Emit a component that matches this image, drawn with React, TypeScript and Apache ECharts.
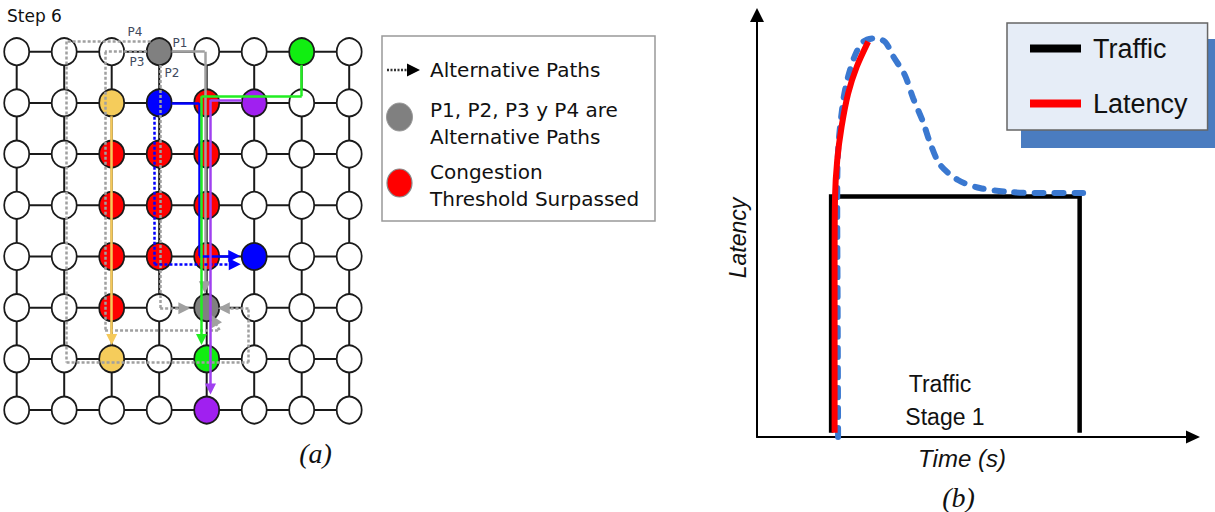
import React, { useEffect, useRef } from "react";
import * as echarts from "echarts";

// ---------- (a) mesh network ----------
const gridCols = [0, 1, 2, 3, 4, 5, 6, 7];
const gridRows = [0, 1, 2, 3, 4, 5, 6, 7];

const congestedNodes = [[4, 1], [2, 2], [3, 2], [4, 2], [2, 3], [3, 3], [4, 3], [2, 4], [3, 4], [4, 4], [2, 5]];
const alternativeNodes = [[3, 0], [4, 5]];
const greenNodes = [[6, 0], [4, 6]];
const blueNodes = [[3, 1], [5, 4]];
const purpleNodes = [[5, 1], [4, 7]];
const yellowNodes = [[2, 1], [2, 6]];

// path vertices in node units (column, row)
const pathP4 = [[2.82, -0.2], [1.05, -0.2], [1.05, 6.07], [4.88, 6.07], [4.88, 5.01], [4.36, 5.01]];
const pathP3 = [[2.74, 0], [1.86, 0], [1.86, 5.44], [4.27, 5.44], [4.15, 5.24]];
const pathP2 = [[3.02, 0.26], [3.02, 5.01], [3.53, 5.01]];
const pathP1 = [[3.26, 0], [3.96, 0], [3.96, 4.6]];
const pathBlueAlt = [[2.9, 1.27], [2.9, 4.15], [4.59, 4.15]];
const pathBlue = [[3.26, 1], [3.84, 1], [3.84, 3.99], [4.58, 3.99]];
const pathGreen = [[6, 0.26], [6, 0.87], [3.89, 0.87], [3.89, 5.62]];
const pathPurple = [[4.74, 0.94], [4.08, 0.94], [4.08, 6.59]];
const pathYellow = [[2, 1.26], [2, 5.62]];

// ---------- (b) latency chart ----------
const trafficStage = [[17, 1], [17, 57], [74, 57], [74, 1]];
const latencyRise = [[17.8, 1], [17.8, 40], [17.9, 57], [18.4, 65.6], [19.4, 73.5], [20.9, 81.4], [22.9, 87.8], [25.5, 93.7]];
const latencyTrend = [
  [18.6, 0], [18.5, 30], [18.4, 55], [18.6, 68], [19.8, 79.9], [20.9, 85.4], [22.5, 90.5], [24.4, 93.7],
  [27.1, 94.5], [29.4, 93.6], [31.3, 90.1], [33.9, 85.8], [35.8, 80.3], [38.1, 74.6], [39.7, 69.7],
  [42, 64.5], [46.1, 60.9], [51.1, 59], [57.6, 58.1], [64.2, 57.8], [74.8, 57.8],
];

const key = (p: number[]) => p[0] + "," + p[1];
const colored = new Set(
  [...congestedNodes, ...alternativeNodes, ...greenNodes, ...blueNodes, ...purpleNodes, ...yellowNodes].map(key)
);
const plainNodes: number[][] = [];
gridRows.forEach((j) => gridCols.forEach((i) => { if (!colored.has(key([i, j]))) plainNodes.push([i, j]); }));

const nodeSeries = (name: string, data: number[][], color: string) => ({
  type: "scatter", name, xAxisIndex: 0, yAxisIndex: 0, data, symbol: "circle", symbolSize: [25, 27],
  clip: false, silent: true, z: 3,
  itemStyle: { color, borderColor: "#1a1a1a", borderWidth: 1.8, opacity: 1 },
});

const pathSeries = (name: string, pts: number[][], color: string, width: number, dash: any, arrow: number) => ({
  type: "lines", name, coordinateSystem: "cartesian2d", xAxisIndex: 0, yAxisIndex: 0, clip: false, silent: true, z: 4,
  symbol: "none",
  lineStyle: { color, width, type: dash, opacity: 1, curveness: 0 },
  data: pts.slice(1).map((p, k) => {
    const seg: any = { coords: [pts[k], p] };
    if (k === pts.length - 2) { seg.symbol = ["none", "triangle"]; seg.symbolSize = arrow; }
    return seg;
  }),
});

const SANS_A = "DejaVu Sans";
const SANS_B = "Liberation Sans";
const SERIF = "Liberation Serif";

const txt = (text: string, x: number, y: number, size: number, family: string, opts: any = {}) => ({
  type: "text", x, y, z: 5, silent: true,
  style: {
    text, fontSize: size, fontFamily: family, fill: opts.fill || "#111",
    fontStyle: opts.italic ? "italic" : "normal",
    textAlign: opts.align || "left", textVerticalAlign: "middle",
  },
});

const option: any = {
  animation: false,
  backgroundColor: "#ffffff",
  grid: [
    { left: 16.7, top: 51.7, width: 332.5, height: 358.4, show: false },
    { left: 757, top: 15, width: 436, height: 422, show: false },
  ],
  xAxis: [
    { type: "value", gridIndex: 0, min: 0, max: 7, show: false },
    {
      type: "value", gridIndex: 1, min: 0, max: 100,
      name: "Time (s)", nameLocation: "middle", nameGap: 9,
      nameTextStyle: { fontFamily: SANS_B, fontSize: 24, fontStyle: "italic", color: "#111", padding: [0, 26, 0, 0] },
      axisLine: { show: true, symbol: ["none", "triangle"], symbolSize: [13, 14], lineStyle: { color: "#000", width: 2 } },
      axisTick: { show: false }, axisLabel: { show: false }, splitLine: { show: false },
    },
  ],
  yAxis: [
    { type: "value", gridIndex: 0, min: 0, max: 7, inverse: true, show: false },
    {
      type: "value", gridIndex: 1, min: 0, max: 100,
      name: "Latency", nameLocation: "middle", nameGap: 8,
      nameTextStyle: { fontFamily: SANS_B, fontSize: 23, fontStyle: "italic", color: "#111", padding: [0, 24, 0, 0] },
      axisLine: { show: true, symbol: ["none", "triangle"], symbolSize: [14, 14], lineStyle: { color: "#000", width: 2 } },
      axisTick: { show: false }, axisLabel: { show: false }, splitLine: { show: false },
    },
  ],
  legend: {
    data: ["Traffic", "Latency"], orient: "vertical", left: 1007, top: 23,
    padding: [12, 20, 13, 23], itemGap: 28, itemWidth: 51, itemHeight: 8, icon: "rect",
    itemStyle: { borderWidth: 0 },
    backgroundColor: "#e6edf7", borderColor: "#666", borderWidth: 1.5, z: 6,
    textStyle: { fontFamily: SANS_B, fontSize: 27, color: "#111", padding: [0, 0, 0, 7] },
    selectedMode: false,
  },
  graphic: [
    txt("Step 6", 7, 16, 17, SANS_A),
    txt("P4", 135, 32, 12, SANS_A, { fill: "#3f4a5e", align: "center" }),
    txt("P1", 180, 43, 12, SANS_A, { fill: "#3f4a5e", align: "center" }),
    txt("P3", 137, 62, 12, SANS_A, { fill: "#3f4a5e", align: "center" }),
    txt("P2", 172, 73, 12, SANS_A, { fill: "#3f4a5e", align: "center" }),
    // legend (a)
    { type: "rect", z: 1, silent: true, shape: { x: 382, y: 36, width: 273, height: 185 }, style: { fill: "#fff", stroke: "#999", lineWidth: 1.5 } },
    { type: "line", z: 2, silent: true, shape: { x1: 387, y1: 70, x2: 408, y2: 70 }, style: { stroke: "#333", lineWidth: 2.5, lineDash: [2, 1.5] } },
    { type: "polygon", z: 2, silent: true, shape: { points: [[407, 63.5], [420, 70], [407, 76.5]] }, style: { fill: "#000" } },
    { type: "ellipse", z: 2, silent: true, shape: { cx: 399.5, cy: 117, rx: 13, ry: 14 }, style: { fill: "#808080", stroke: "#999", lineWidth: 1 } },
    { type: "ellipse", z: 2, silent: true, shape: { cx: 399.5, cy: 183, rx: 12.5, ry: 14 }, style: { fill: "#ff0000", stroke: "#888", lineWidth: 1.2 } },
    txt("Alternative Paths", 430, 70, 20, SANS_A),
    txt("P1, P2, P3 y P4 are", 430, 110, 20, SANS_A),
    txt("Alternative Paths", 430, 137, 20, SANS_A),
    txt("Congestion", 430, 172, 20, SANS_A),
    txt("Threshold Surpassed", 430, 199, 20, SANS_A),
    txt("(a)", 315.5, 453, 28, SERIF, { italic: true, align: "center" }),
    // (b)
    { type: "rect", z: 1, silent: true, shape: { x: 1021, y: 39, width: 194, height: 109 }, style: { fill: "#4a7cc0" } },
    txt("Traffic", 940, 384, 23, SANS_B, { align: "center" }),
    txt("Stage 1", 945, 417, 23, SANS_B, { align: "center" }),
    txt("(b)", 958.5, 497, 28, SERIF, { italic: true, align: "center" }),
  ],
  series: [
    {
      type: "lines", name: "Links", coordinateSystem: "cartesian2d", xAxisIndex: 0, yAxisIndex: 0,
      polyline: true, clip: false, silent: true, z: 2,
      lineStyle: { color: "#1a1a1a", width: 2, opacity: 1 },
      data: [
        ...gridRows.map((j) => ({ coords: gridCols.map((i) => [i, j]) })),
        ...gridCols.map((i) => ({ coords: gridRows.map((j) => [i, j]) })),
      ],
    },
    nodeSeries("Node", plainNodes, "#ffffff"),
    nodeSeries("Congestion Threshold Surpassed", congestedNodes, "#ff0000"),
    nodeSeries("Alternative node", alternativeNodes, "#808080"),
    nodeSeries("Green flow", greenNodes, "#11ee11"),
    nodeSeries("Blue flow", blueNodes, "#0000ff"),
    nodeSeries("Purple flow", purpleNodes, "#a020f0"),
    nodeSeries("Yellow flow", yellowNodes, "#f5cc5b"),
    pathSeries("P4", pathP4, "#a0a0a0", 2.5, [3, 2], 12),
    pathSeries("P3", pathP3, "#a0a0a0", 2.5, [3, 2], 12),
    pathSeries("P2", pathP2, "#a0a0a0", 2.5, [3, 2], 12),
    pathSeries("P1", pathP1, "#a0a0a0", 2.5, "solid", 12),
    pathSeries("Blue alternative", pathBlueAlt, "#0000ff", 2.5, [3, 2], 12),
    pathSeries("Blue path", pathBlue, "#0000ff", 2.5, "solid", 12),
    pathSeries("Green path", pathGreen, "#22ee22", 2.5, "solid", 11),
    pathSeries("Purple path", pathPurple, "#a040f0", 2.5, "solid", 11),
    pathSeries("Yellow path", pathYellow, "#f5c95a", 2.5, "solid", 11),
    {
      type: "line", name: "Traffic", xAxisIndex: 1, yAxisIndex: 1, data: trafficStage, symbol: "none", silent: true,
      lineStyle: { color: "#000", width: 4.5, join: "miter" }, itemStyle: { color: "#000" }, z: 2,
    },
    {
      type: "line", name: "Latency trend", xAxisIndex: 1, yAxisIndex: 1, data: latencyTrend, symbol: "none", silent: true,
      smooth: 0.3,
      lineStyle: { color: "#3a78d0", width: 6, type: [9, 11], cap: "round" }, itemStyle: { color: "#3a78d0" }, z: 3,
    },
    {
      type: "line", name: "Latency", xAxisIndex: 1, yAxisIndex: 1, data: latencyRise, symbol: "none", silent: true,
      smooth: 0.3,
      lineStyle: { color: "#ff0000", width: 6 }, itemStyle: { color: "#ff0000" }, z: 4,
    },
  ],
};

export default function App() {
  const ref = useRef<HTMLDivElement>(null);
  useEffect(() => {
    const chart = echarts.init(ref.current!, null, { renderer: "svg" });
    chart.setOption(option);
    return () => chart.dispose();
  }, []);
  return (
    <div
      ref={ref}
      style={{ position: "fixed", left: 0, top: 0, width: 1215, height: 512, background: "#fff" }}
    />
  );
}
